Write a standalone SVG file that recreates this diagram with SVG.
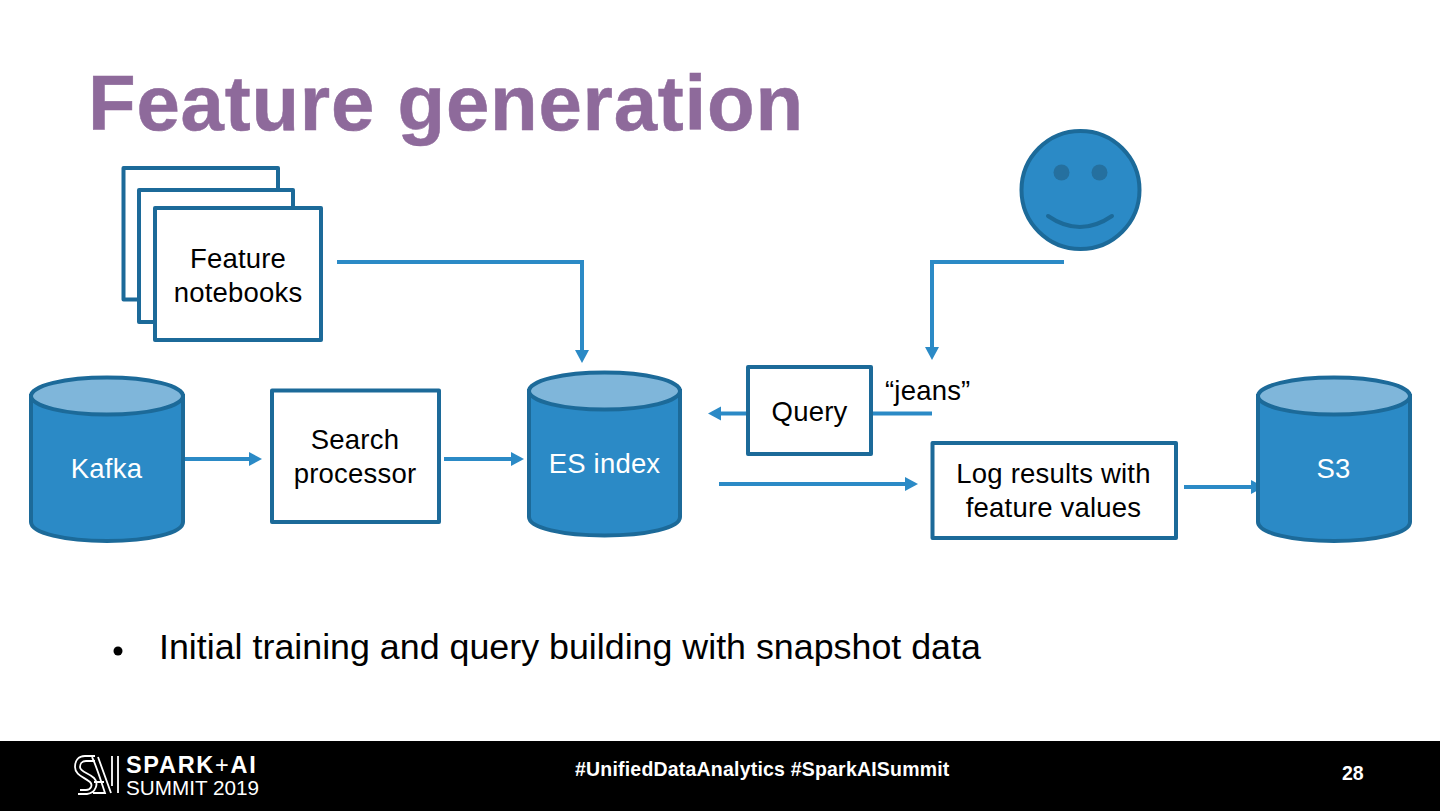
<svg xmlns="http://www.w3.org/2000/svg" width="1440" height="811" viewBox="0 0 1440 811">
<style>
text{font-family:"Liberation Sans",Arial,sans-serif}
.box{fill:#fff;stroke:#1c6a99;stroke-width:4;stroke-linejoin:round}
.body{fill:#2b8ac6;stroke:#1c6a99;stroke-width:4}
.lid{fill:#7fb6da;stroke:#1c6a99;stroke-width:4}
.t{font-size:27.500px;letter-spacing:.2px;fill:#000;text-anchor:middle}
.w{font-size:27.500px;letter-spacing:.2px;fill:#fff;text-anchor:middle}
.c{fill:none;stroke:#2b8ac6;stroke-width:4}
.f{font-weight:bold;fill:#fff}
</style>
<defs>
<marker id="a" markerUnits="userSpaceOnUse" markerWidth="14" markerHeight="16" refX="1" refY="8" orient="auto"><path d="M0 1L13 8L0 15Z" fill="#2b8ac6"/></marker>
</defs>
<rect width="1440" height="811" fill="#fff"/>
<text x="88" y="130" fill="#8e6a9b" stroke="#8e6a9b" stroke-width=".5" font-weight="bold" style="font-size:78px;letter-spacing:.76px">Feature generation</text>
<g id="connectors">
<path class="c" d="M337 262H582V351" marker-end="url(#a)"/>
<path class="c" d="M1064 262H932V348" marker-end="url(#a)"/>
<path class="c" d="M184 459H250" marker-end="url(#a)"/>
<path class="c" d="M444 459H512" marker-end="url(#a)"/>
<path class="c" d="M747 413.500H720" marker-end="url(#a)"/>
<path class="c" d="M872 413.500H932"/>
<path class="c" d="M719 484H906" marker-end="url(#a)"/>
<path class="c" d="M1184 487H1252" marker-end="url(#a)"/>
</g>
<g id="notebooks">
<rect class="box" x="123.500" y="168" width="154.500" height="131.500"/>
<rect class="box" x="139" y="190" width="154" height="132"/>
<rect class="box" x="155" y="208" width="166" height="132"/>
<text class="t" x="238" y="268">Feature</text>
<text class="t" x="238" y="302">notebooks</text>
</g>
<g id="kafka">
<path class="body" d="M31 396V522C31 533 65 541 107 541S183 533 183 522V396Z"/>
<ellipse class="lid" cx="107" cy="396" rx="76" ry="18.500"/>
<text class="w" x="106.500" y="478">Kafka</text>
</g>
<g id="search-processor">
<rect class="box" x="272" y="390.500" width="167" height="131.500"/>
<text class="t" x="355" y="449">Search</text>
<text class="t" x="355" y="483">processor</text>
</g>
<g id="es-index">
<path class="body" d="M529 391V517C529 528 563 535.500 604.500 535.500S680 528 680 517V391Z"/>
<ellipse class="lid" cx="604.500" cy="391" rx="75.500" ry="18.500"/>
<text class="w" x="604.500" y="473">ES index</text>
</g>
<g id="query">
<rect class="box" x="748" y="367" width="123" height="87"/>
<text class="t" x="809.500" y="421">Query</text>
</g>
<g id="jeans"><text x="885" y="400" style="font-size:27.500px;letter-spacing:.2px">“jeans”</text></g>
<g id="log-results">
<rect class="box" x="932.500" y="443" width="243.500" height="95"/>
<text class="t" x="1053.500" y="483">Log results with</text>
<text class="t" x="1053.500" y="517">feature values</text>
</g>
<g id="s3">
<path class="body" d="M1258 396V522C1258 533 1292 541 1334 541S1410 533 1410 522V396Z"/>
<ellipse class="lid" cx="1334" cy="396" rx="76" ry="18.500"/>
<text class="w" x="1333.500" y="478">S3</text>
</g>
<g id="user">
<circle cx="1080.500" cy="190" r="59" fill="#2b8ac6" stroke="#1c6a99" stroke-width="4"/>
<circle cx="1061.500" cy="172.500" r="8" fill="#25709f"/>
<circle cx="1099.500" cy="172.500" r="8" fill="#25709f"/>
<path d="M1048 216Q1080 238 1112 216" fill="none" stroke="#1c6a99" stroke-width="4" stroke-linecap="round"/>
</g>
<circle cx="118" cy="651" r="4.500" fill="#000"/>
<text x="159" y="659" style="font-size:35.800px">Initial training and query building with snapshot data</text>
<g id="footer">
<rect y="741" width="1440" height="70" fill="#000"/>
<g fill="none" stroke="#fff" stroke-width="1.800">
<path d="M95 756H85C78 756 75 761 75 767C75 775 84 777 90 782C93 785 91 790 86 790H80"/>
<path d="M95 761H86C82 761 80 764 80 767C80 772 89 773 94 778C99 783 96 793 87 794H78"/>
<path d="M92 757C96 765 100 778 105 793H93"/>
<path d="M98 757L111 793M104 782H94"/>
<path d="M112 756V786M118 756V793"/>
</g>
<text class="f" x="126" y="773" style="font-size:23.500px;letter-spacing:1.700px">SPARK<tspan font-weight="normal">+</tspan>AI</text>
<text x="126" y="795" fill="#fff" style="font-size:20.700px">SUMMIT 2019</text>
<text class="f" x="575" y="776" style="font-size:19.500px;letter-spacing:.2px">#UnifiedDataAnalytics #SparkAISummit</text>
<text class="f" x="1342" y="780" style="font-size:19.500px">28</text>
</g>
</svg>
